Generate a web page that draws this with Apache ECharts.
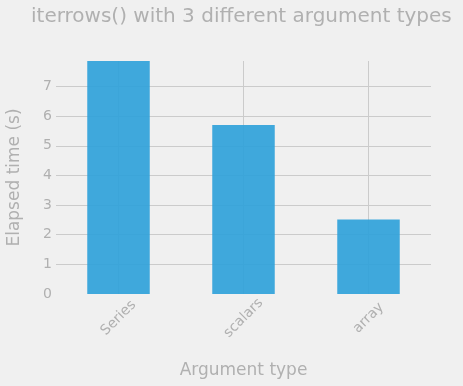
<!DOCTYPE html>
<html>
<head>
<meta charset="utf-8">
<script src="https://cdn.jsdelivr.net/npm/echarts@6/dist/echarts.min.js"></script>
<style>
  html, body { margin: 0; padding: 0; background: #f0f0f0; }
  #chart { width: 463px; height: 386px; }
</style>
</head>
<body>
<div id="chart"></div>
<script>
const categories = ['Series', 'scalars', 'array'];
const elapsed = [7.86, 5.7, 2.51];
const yMax = 7.86;

const grey = '#b0b0b0';
const font = 'DejaVu Sans';

const chart = echarts.init(document.getElementById('chart'));
chart.setOption({
  backgroundColor: '#f0f0f0',
  animation: false,
  textStyle: { fontFamily: font },
  title: {
    text: 'iterrows() with 3 different argument types',
    left: 26,
    top: 2,
    textStyle: { color: grey, fontSize: 20, fontWeight: 'normal', fontFamily: font }
  },
  grid: { left: 56, right: 32, top: 61, bottom: 92, outerBoundsMode: 'none', containLabel: false },
  xAxis: {
    type: 'category',
    data: categories,
    name: 'Argument type',
    nameLocation: 'middle',
    nameGap: 68,
    nameTextStyle: { color: grey, fontSize: 17, fontFamily: font },
    axisLine: { show: false },
    axisTick: { show: false, alignWithLabel: true },
    axisLabel: { color: grey, fontSize: 14, rotate: 45, margin: 24, align: 'center', verticalAlign: 'middle', fontFamily: font },
    splitLine: { show: true, alignWithLabel: true, lineStyle: { color: '#cbcbcb', width: 1 } }
  },
  yAxis: {
    type: 'value',
    min: 0,
    max: yMax,
    interval: 1,
    name: 'Elapsed time (s)',
    nameLocation: 'middle',
    nameGap: 33,
    nameTextStyle: { color: grey, fontSize: 17, fontFamily: font },
    axisLine: { show: false },
    axisTick: { show: false },
    axisLabel: { color: grey, fontSize: 14, margin: 4, showMaxLabel: false, fontFamily: font },
    splitLine: { show: true, showMinLine: false, showMaxLine: false, lineStyle: { color: '#cbcbcb', width: 1 } }
  },
  series: [{
    type: 'bar',
    data: elapsed,
    barWidth: '50%',
    itemStyle: { color: '#30a2da', opacity: 0.92 }
  }]
});
</script>
</body>
</html>
